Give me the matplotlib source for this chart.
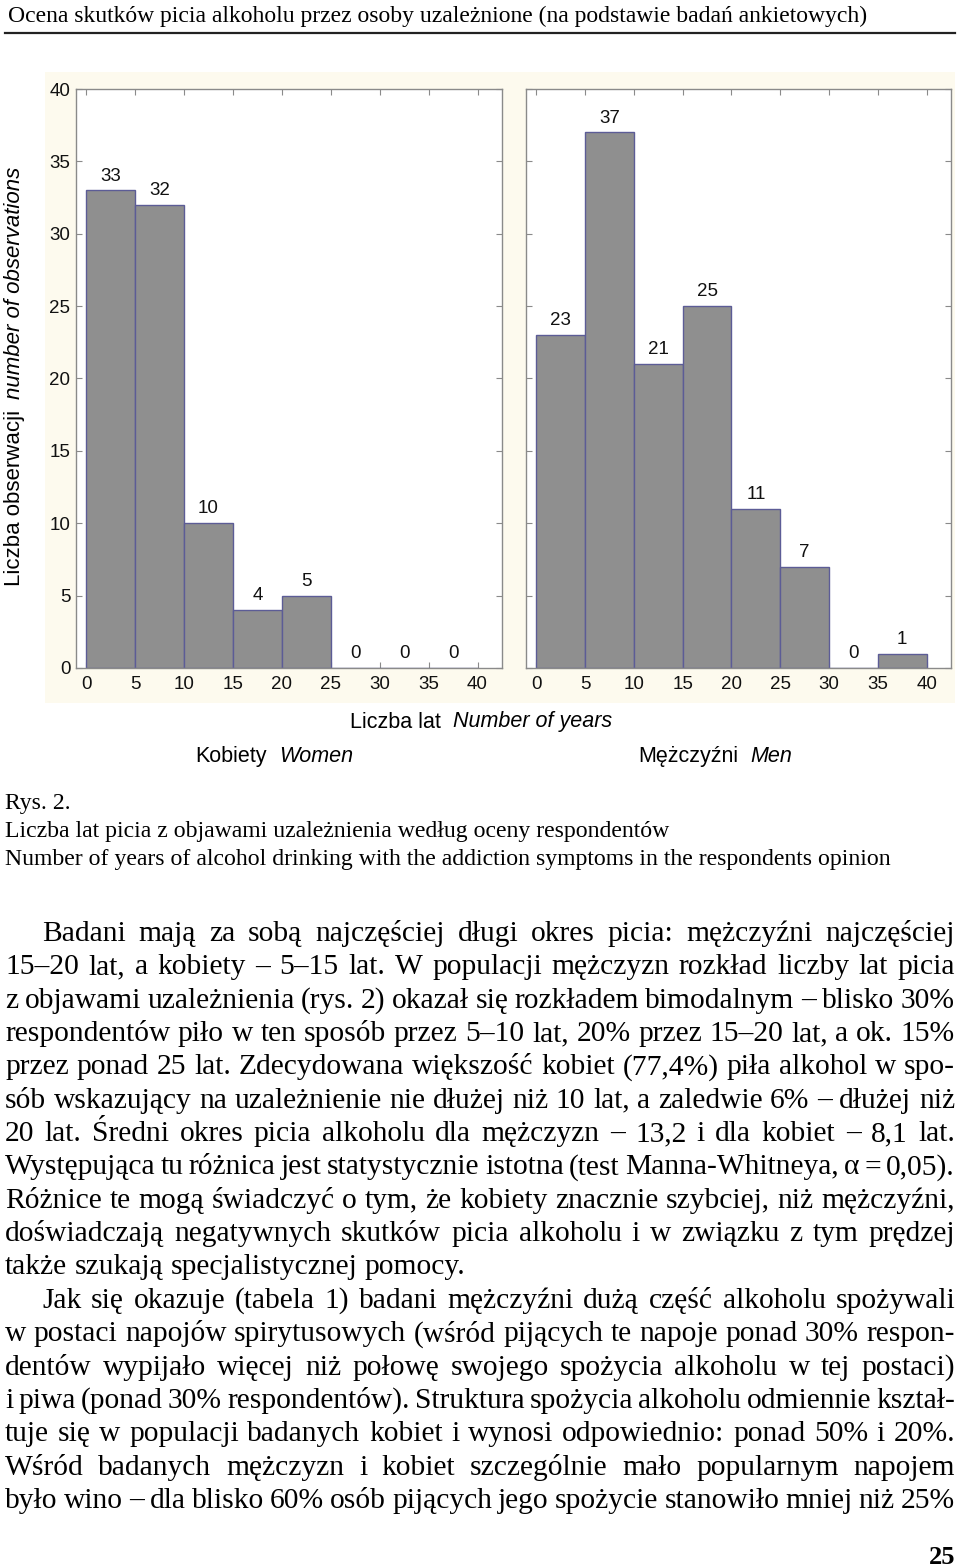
import matplotlib
matplotlib.use("Agg")
import matplotlib.pyplot as plt
from matplotlib.patches import Rectangle
from matplotlib.lines import Line2D

# ---------------- data ----------------
bin_left = [0, 5, 10, 15, 20, 25, 30, 35]
bin_width = 5
women_counts = [33, 32, 10, 4, 5, 0, 0, 0]
men_counts = [23, 37, 21, 25, 11, 7, 0, 1]
x_ticks = [0, 5, 10, 15, 20, 25, 30, 35, 40]
y_ticks = [0, 5, 10, 15, 20, 25, 30, 35, 40]

header_text = "Ocena skutków picia alkoholu przez osoby uzależnione (na podstawie badań ankietowych)"
caption_lines = [
    "Rys. 2.",
    "Liczba lat picia z objawami uzależnienia według oceny respondentów",
    "Number of years of alcohol drinking with the addiction symptoms in the respondents opinion",
]
# (text, indented, justified)
body_lines = [
    ("Badani mają za sobą najczęściej długi okres picia: mężczyźni najczęściej", True, True),
    ("15–20 lat, a kobiety – 5–15 lat. W populacji mężczyzn rozkład liczby lat picia", False, True),
    ("z objawami uzależnienia (rys. 2) okazał się rozkładem bimodalnym – blisko 30%", False, True),
    ("respondentów piło w ten sposób przez 5–10 lat, 20% przez 15–20 lat, a ok. 15%", False, True),
    ("przez ponad 25 lat. Zdecydowana większość kobiet (77,4%) piła alkohol w spo-", False, True),
    ("sób wskazujący na uzależnienie nie dłużej niż 10 lat, a zaledwie 6% – dłużej niż", False, True),
    ("20 lat. Średni okres picia alkoholu dla mężczyzn – 13,2 i dla kobiet – 8,1 lat.", False, True),
    ("Występująca tu różnica jest statystycznie istotna (test Manna-Whitneya, α = 0,05).", False, True),
    ("Różnice te mogą świadczyć o tym, że kobiety znacznie szybciej, niż mężczyźni,", False, True),
    ("doświadczają negatywnych skutków picia alkoholu i w związku z tym prędzej", False, True),
    ("także szukają specjalistycznej pomocy.", False, False),
    ("Jak się okazuje (tabela 1) badani mężczyźni dużą część alkoholu spożywali", True, True),
    ("w postaci napojów spirytusowych (wśród pijących te napoje ponad 30% respon-", False, True),
    ("dentów wypijało więcej niż połowę swojego spożycia alkoholu w tej postaci)", False, True),
    ("i piwa (ponad 30% respondentów). Struktura spożycia alkoholu odmiennie kształ-", False, True),
    ("tuje się w populacji badanych kobiet i wynosi odpowiednio: ponad 50% i 20%.", False, True),
    ("Wśród badanych mężczyzn i kobiet szczególnie mało popularnym napojem", False, True),
    ("było wino – dla blisko 60% osób pijących jego spożycie stanowiło mniej niż 25%", False, True),
]
page_number = "25"

# ---------------- figure ----------------
W, H = 960, 1568
fig = plt.figure(figsize=(W / 100, H / 100), dpi=100)
fig.patch.set_facecolor("white")
renderer = fig.canvas.get_renderer()

SERIF = "Liberation Serif"
SANS = "Liberation Sans"


def fx(x):
    return x / W


def fy(y):
    return 1 - y / H


def tw(s, size, family=SERIF, **kw):
    t = fig.text(0, 0, s, fontsize=size, family=family, **kw)
    w = t.get_window_extent(renderer).width
    t.remove()
    return w


def fit_size(s, width, family=SERIF, **kw):
    return 20 * width / tw(s, 20, family, **kw)


# header
hs = fit_size(header_text, 859)
fig.text(fx(8), fy(22), header_text, fontsize=hs, family=SERIF, va="baseline", ha="left")
fig.add_artist(Line2D([fx(5), fx(955)], [fy(33), fy(33)], color="#222222", lw=1.6,
                      transform=fig.transFigure))

# cream background of chart
fig.add_artist(Rectangle((fx(45), fy(703)), (955 - 45) / W, (703 - 72) / H,
                         transform=fig.transFigure, facecolor="#fdfaee", edgecolor="none",
                         zorder=-5))

# axes
ax_bottom = fy(668)
ax_h = (668 - 89) / H
axL = fig.add_axes([fx(76), ax_bottom, (502 - 76) / W, ax_h])
axR = fig.add_axes([fx(526), ax_bottom, (951 - 526) / W, ax_h])

spine_c = "#8a8a8a"
TS = 13.5
for ax, counts in ((axL, women_counts), (axR, men_counts)):
    ax.set_facecolor("white")
    ax.bar(bin_left, counts, width=bin_width, align="edge", color="#8f8f8f",
           edgecolor="#5c5c96", linewidth=1.0, zorder=2)
    for xl, c in zip(bin_left, counts):
        ax.text(xl + bin_width / 2, c + 0.4, str(c), ha="center", va="bottom",
                fontsize=TS, family=SANS, color="#111111", zorder=3)
    ax.set_xlim(-1.05, 42.5)
    ax.set_ylim(0, 40)
    ax.set_xticks(x_ticks)
    ax.set_yticks(y_ticks)
    ax.tick_params(direction="in", length=4, width=0.8, color=spine_c, top=True, right=True,
                   labelsize=TS, labelcolor="#111111")
    ax.tick_params(axis="x", pad=6)
    ax.tick_params(axis="y", pad=4)
    for lab in ax.get_xticklabels() + ax.get_yticklabels():
        lab.set_family(SANS)
    for sp in ax.spines.values():
        sp.set_color(spine_c)
        sp.set_linewidth(1.0)
axR.set_yticklabels([])

LS = 15.5
YS = 16.0
# y label (rotated): normal part, then italic part placed after it
t1 = fig.text(fx(15), fy(586), "Liczba obserwacji", rotation=90, fontsize=YS, family=SANS,
              ha="center", va="bottom")
top1 = t1.get_window_extent(renderer).y1  # display pixels from bottom
fig.text(fx(15), (top1 + 11) / H, "number of observations", rotation=90, fontsize=YS,
         family=SANS, style="italic", ha="center", va="bottom")
# x label
fig.text(fx(350), fy(722), "Liczba lat", fontsize=LS, family=SANS, ha="left", va="center")
fig.text(fx(453), fy(722), "Number of years", fontsize=LS, family=SANS, style="italic",
         ha="left", va="center")
fig.text(fx(195), fy(757), "Kobiety", fontsize=LS, family=SANS, ha="left", va="center")
fig.text(fx(279), fy(757), "Women", fontsize=LS, family=SANS, style="italic", ha="left",
         va="center")
fig.text(fx(638), fy(757), "Mężczyźni", fontsize=LS, family=SANS, ha="left", va="center")
fig.text(fx(750), fy(757), "Men", fontsize=LS, family=SANS, style="italic", ha="left",
         va="center")

# caption
cs = fit_size(caption_lines[2], 888)
for i, line in enumerate(caption_lines):
    fig.text(fx(5), fy(809 + 28 * i), line, fontsize=cs, family=SERIF, ha="left",
             va="baseline")

# body text, justified
X0, X1, INDENT = 5, 955, 42
ref = 20.0
sizes = []
for line, ind, just in body_lines:
    if not just:
        continue
    words = line.split(" ")
    total = sum(tw(w, ref) for w in words) + 0.17 * ref * 1.389 * (len(words) - 1)
    avail = X1 - (INDENT if ind else X0)
    sizes.append(ref * avail / total)
bs = min(sizes)
space_w = tw("a a", bs) - tw("aa", bs)

for i, (line, ind, just) in enumerate(body_lines):
    y = 941 + 33.35 * i
    x0 = INDENT if ind else X0
    words = line.split(" ")
    ws = [tw(w, bs) for w in words]
    if just and len(words) > 1:
        gap = (X1 - x0 - sum(ws)) / (len(words) - 1)
    else:
        gap = space_w
    x = x0
    for w, wd in zip(words, ws):
        fig.text(fx(x), fy(y), w, fontsize=bs, family=SERIF, ha="left", va="baseline")
        x += wd + gap

fig.text(fx(955), fy(1564), page_number, fontsize=19, family=SERIF, weight="bold",
         ha="right", va="baseline")

fig.savefig("out.png", dpi=100)
